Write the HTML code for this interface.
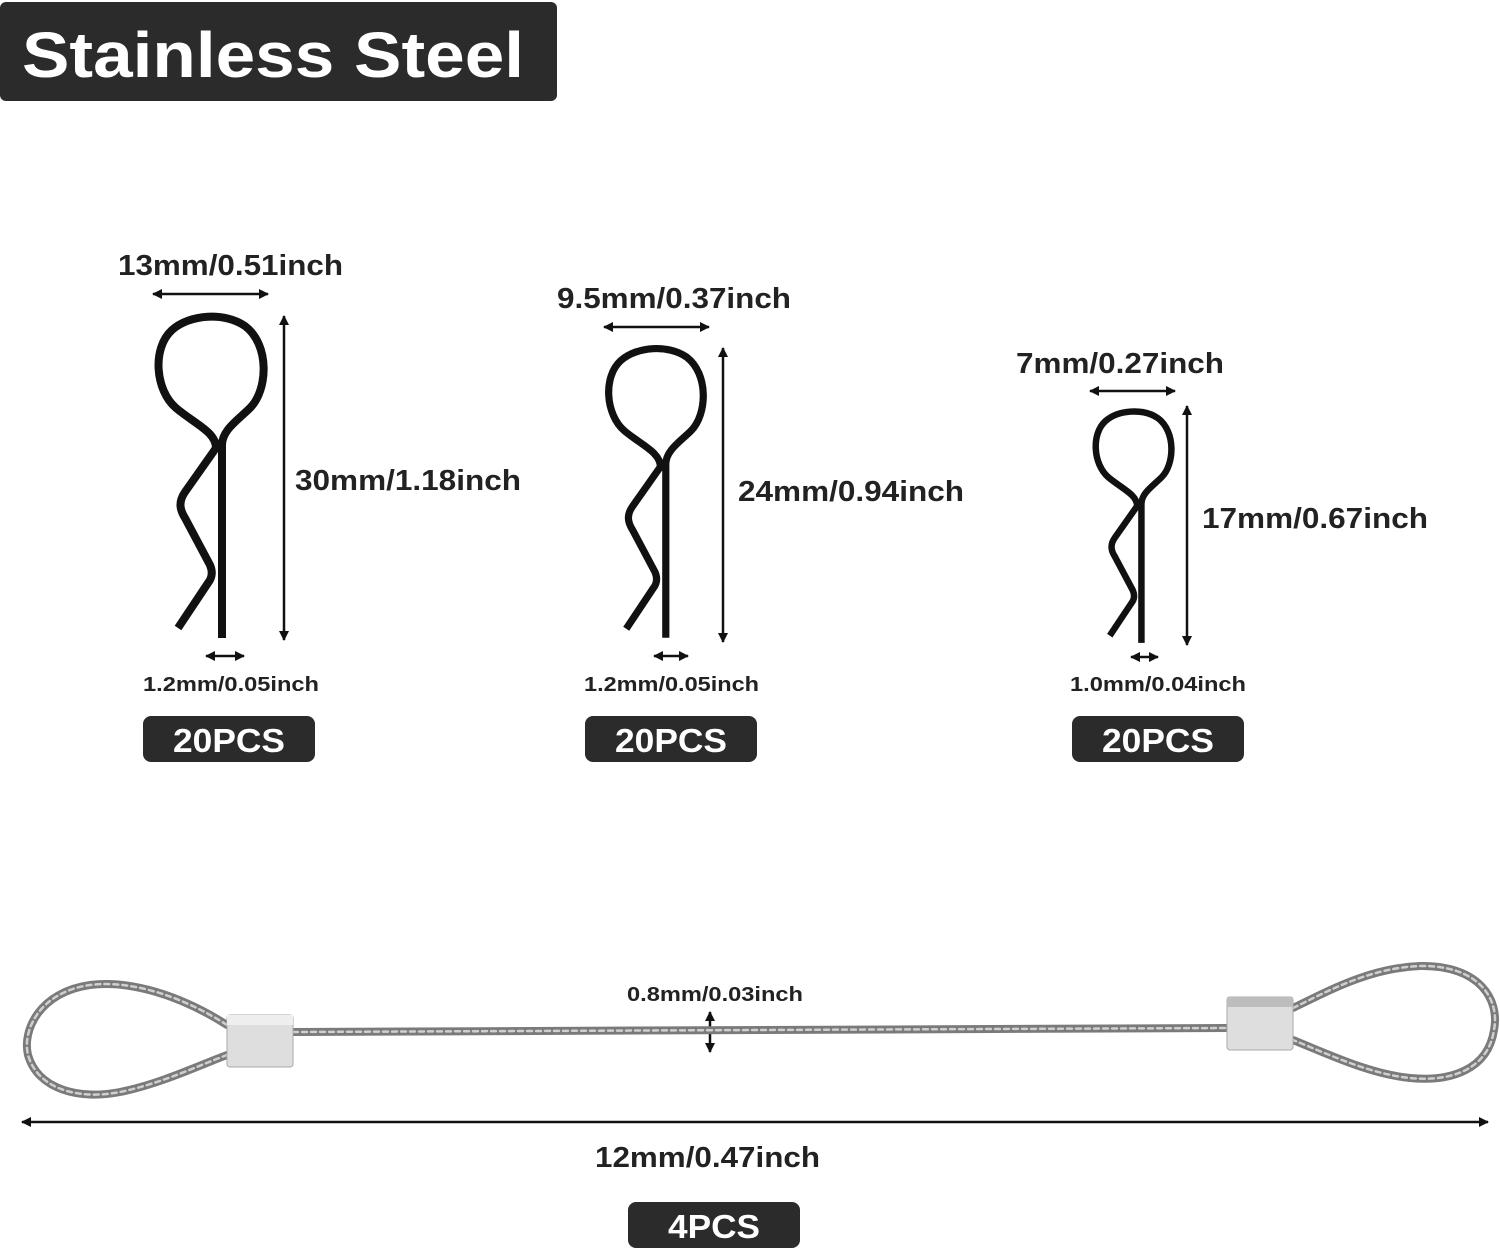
<!DOCTYPE html>
<html><head><meta charset="utf-8"><style>
html,body{margin:0;padding:0;background:#fff}
body{width:1500px;height:1252px;position:relative;overflow:hidden;font-family:"Liberation Sans",Arial,sans-serif}
svg{position:absolute;left:0;top:0}
</style></head><body>
<svg width="1500" height="1252" viewBox="0 0 1500 1252" xmlns="http://www.w3.org/2000/svg">
<defs>
<marker id="ah" viewBox="0 0 10 10" refX="9" refY="5" markerWidth="4" markerHeight="4" orient="auto-start-reverse"><path d="M0,0 L10,5 L0,10 z" fill="#111"/></marker>
<path id="clip" d="M222,638 L222,445 C222,430 238,420 250,408 C268,390 270,345 245,326 C225,312 190,314 172,330 C152,348 155,390 176,408 C195,424 216,432 216,448 L185,492 C178,502 180,510 185,518 L210,565 C213,572 212,578 208,583 L178,628" fill="none" stroke-linejoin="round"/>
</defs>
<rect x="0" y="2" width="557" height="99" rx="6" fill="#2b2b2b"/>
<text x="22" y="77" font-size="64" font-weight="bold" fill="#fff" textLength="502" lengthAdjust="spacingAndGlyphs">Stainless Steel</text>

<g font-weight="bold" fill="#222" font-size="29" lengthAdjust="spacingAndGlyphs">
<text x="118" y="275" textLength="225" lengthAdjust="spacingAndGlyphs">13mm/0.51inch</text>
<text x="295" y="490" textLength="226" lengthAdjust="spacingAndGlyphs">30mm/1.18inch</text>
<text x="557" y="308" textLength="234" lengthAdjust="spacingAndGlyphs">9.5mm/0.37inch</text>
<text x="738" y="501" textLength="226" lengthAdjust="spacingAndGlyphs">24mm/0.94inch</text>
<text x="1016" y="373" textLength="208" lengthAdjust="spacingAndGlyphs">7mm/0.27inch</text>
<text x="1202" y="528" textLength="226" lengthAdjust="spacingAndGlyphs">17mm/0.67inch</text>
<text x="595" y="1167" textLength="225" lengthAdjust="spacingAndGlyphs">12mm/0.47inch</text>
</g>
<g font-weight="bold" fill="#222" font-size="20">
<text x="143" y="691" textLength="176" lengthAdjust="spacingAndGlyphs">1.2mm/0.05inch</text>
<text x="584" y="691" textLength="175" lengthAdjust="spacingAndGlyphs">1.2mm/0.05inch</text>
<text x="1070" y="691" textLength="176" lengthAdjust="spacingAndGlyphs">1.0mm/0.04inch</text>
<text x="627" y="1001" textLength="176" lengthAdjust="spacingAndGlyphs">0.8mm/0.03inch</text>
</g>

<g stroke="#111" fill="none">
<use href="#clip" stroke-width="8"/>
<use href="#clip" stroke-width="8" transform="translate(466,63.6) scale(0.9)"/>
<use href="#clip" stroke-width="9" transform="translate(981.6,183.5) scale(0.72)"/>
</g>

<g stroke="#111" stroke-width="2.5" marker-start="url(#ah)" marker-end="url(#ah)">
<line x1="153" y1="294" x2="268" y2="294"/>
<line x1="284" y1="316" x2="284" y2="640"/>
<line x1="206" y1="656" x2="244" y2="656"/>
<line x1="604" y1="327" x2="709" y2="327"/>
<line x1="723" y1="348" x2="723" y2="642"/>
<line x1="654" y1="656" x2="688" y2="656"/>
<line x1="1090" y1="391" x2="1175" y2="391"/>
<line x1="1187" y1="406" x2="1187" y2="645"/>
<line x1="1131" y1="657" x2="1158" y2="657"/>
<line x1="710" y1="1012" x2="710" y2="1052"/>
<line x1="22" y1="1122" x2="1488" y2="1122"/>
</g>

<g font-weight="bold" font-size="33" fill="#fff">
<rect x="143" y="716" width="172" height="46" rx="8" fill="#2b2b2b"/><text x="173" y="752" textLength="112" lengthAdjust="spacingAndGlyphs">20PCS</text>
<rect x="585" y="716" width="172" height="46" rx="8" fill="#2b2b2b"/><text x="615" y="752" textLength="112" lengthAdjust="spacingAndGlyphs">20PCS</text>
<rect x="1072" y="716" width="172" height="46" rx="8" fill="#2b2b2b"/><text x="1102" y="752" textLength="112" lengthAdjust="spacingAndGlyphs">20PCS</text>
<rect x="628" y="1202" width="172" height="46" rx="8" fill="#2b2b2b"/><text x="668" y="1238" textLength="92" lengthAdjust="spacingAndGlyphs">4PCS</text>
</g>

<g fill="none" stroke-linecap="round">
<g stroke="#7a7a7a" stroke-width="8">
<path d="M293,1032 L1227,1028"/>
<path d="M227,1025 C180,995 130,980 90,985 C40,992 22,1030 28,1055 C38,1090 80,1100 120,1092 C160,1084 200,1065 227,1055"/>
<path d="M1293,1008 C1330,990 1370,968 1420,966 C1480,965 1500,1000 1494,1030 C1488,1070 1450,1082 1410,1078 C1370,1074 1330,1055 1293,1040"/>
</g>
<g stroke="#cfcfcf" stroke-width="2.5" stroke-dasharray="5 4">
<path d="M293,1032 L1227,1028"/>
<path d="M227,1025 C180,995 130,980 90,985 C40,992 22,1030 28,1055 C38,1090 80,1100 120,1092 C160,1084 200,1065 227,1055"/>
<path d="M1293,1008 C1330,990 1370,968 1420,966 C1480,965 1500,1000 1494,1030 C1488,1070 1450,1082 1410,1078 C1370,1074 1330,1055 1293,1040"/>
</g>
</g>
<rect x="227" y="1015" width="66" height="52" rx="3" fill="#dedede" stroke="#aaa"/>
<rect x="227" y="1015" width="66" height="10" fill="#eee"/>
<rect x="1227" y="997" width="66" height="53" rx="3" fill="#dedede" stroke="#aaa"/>
<rect x="1227" y="997" width="66" height="10" fill="#bdbdbd"/>
</svg>
</body></html>
